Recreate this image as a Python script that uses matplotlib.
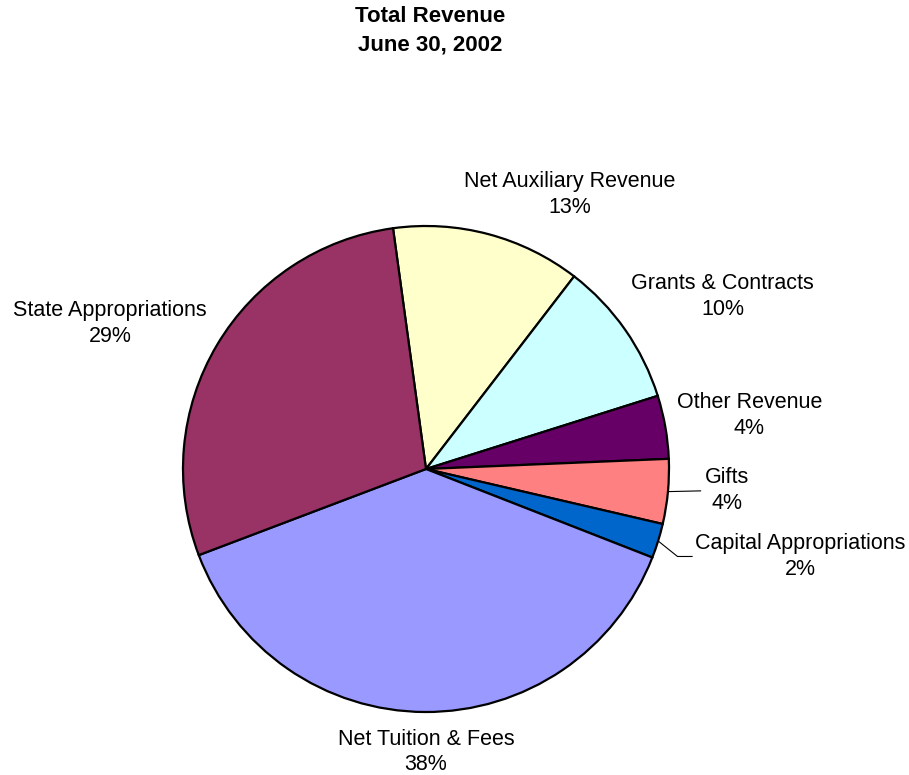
import numpy as np
import matplotlib.pyplot as plt

plt.rcParams['font.family'] = ['Liberation Sans', 'DejaVu Sans']

categories = ['Net Auxiliary Revenue', 'Grants & Contracts', 'Other Revenue', 'Gifts',
              'Capital Appropriations', 'Net Tuition & Fees', 'State Appropriations']
shares = [12.6, 9.7, 4.2, 4.3, 2.3, 38.3, 28.6]
colors = ['#FFFFCC', '#CCFFFF', '#660066', '#FF8080', '#0066CC', '#9999FF', '#993366']

# label centres, in units of the pie radius
label_pos = [(0.59, 1.13), (1.22, 0.71), (1.33, 0.22), (1.24, -0.09),
             (1.54, -0.36), (0.0, -1.165), (-1.30, 0.60)]

W, H = 909, 775
fig = plt.figure(figsize=(W / 100, H / 100), dpi=100)

cx, cy, R = 426, 469, 243
size = 2 * R * 1.8
ax = fig.add_axes([(cx - size / 2) / W, 1 - (cy + size / 2) / H, size / W, size / H])

wedges, _ = ax.pie(shares, colors=colors, startangle=97.8, counterclock=False,
                   radius=1.0, wedgeprops=dict(edgecolor='black', linewidth=1.6))
ax.set_xlim(-1.8, 1.8)
ax.set_ylim(-1.8, 1.8)
ax.set_aspect('equal')
ax.axis('off')

for name, val, (lx, ly) in zip(categories, shares, label_pos):
    ax.text(lx, ly, '%s\n%d%%' % (name, round(val)), ha='center', va='center',
            fontsize=15.5, linespacing=1.3)

# leader lines for the small slices
def leader(i, pts):
    w = wedges[i]
    a = np.deg2rad((w.theta1 + w.theta2) / 2)
    xs = [np.cos(a)] + [p[0] for p in pts]
    ys = [np.sin(a)] + [p[1] for p in pts]
    ax.plot(xs, ys, color='black', linewidth=0.8)

leader(3, [(1.13, -0.09)])
leader(4, [(1.035, -0.36), (1.095, -0.36)])

fig.text(430 / W, 1 - 17 / H, 'Total Revenue', ha='center', va='center',
         fontsize=16, fontweight='bold')
fig.text(430 / W, 1 - 45 / H, 'June 30, 2002', ha='center', va='center',
         fontsize=16, fontweight='bold')

fig.savefig('out.png', dpi=100)
